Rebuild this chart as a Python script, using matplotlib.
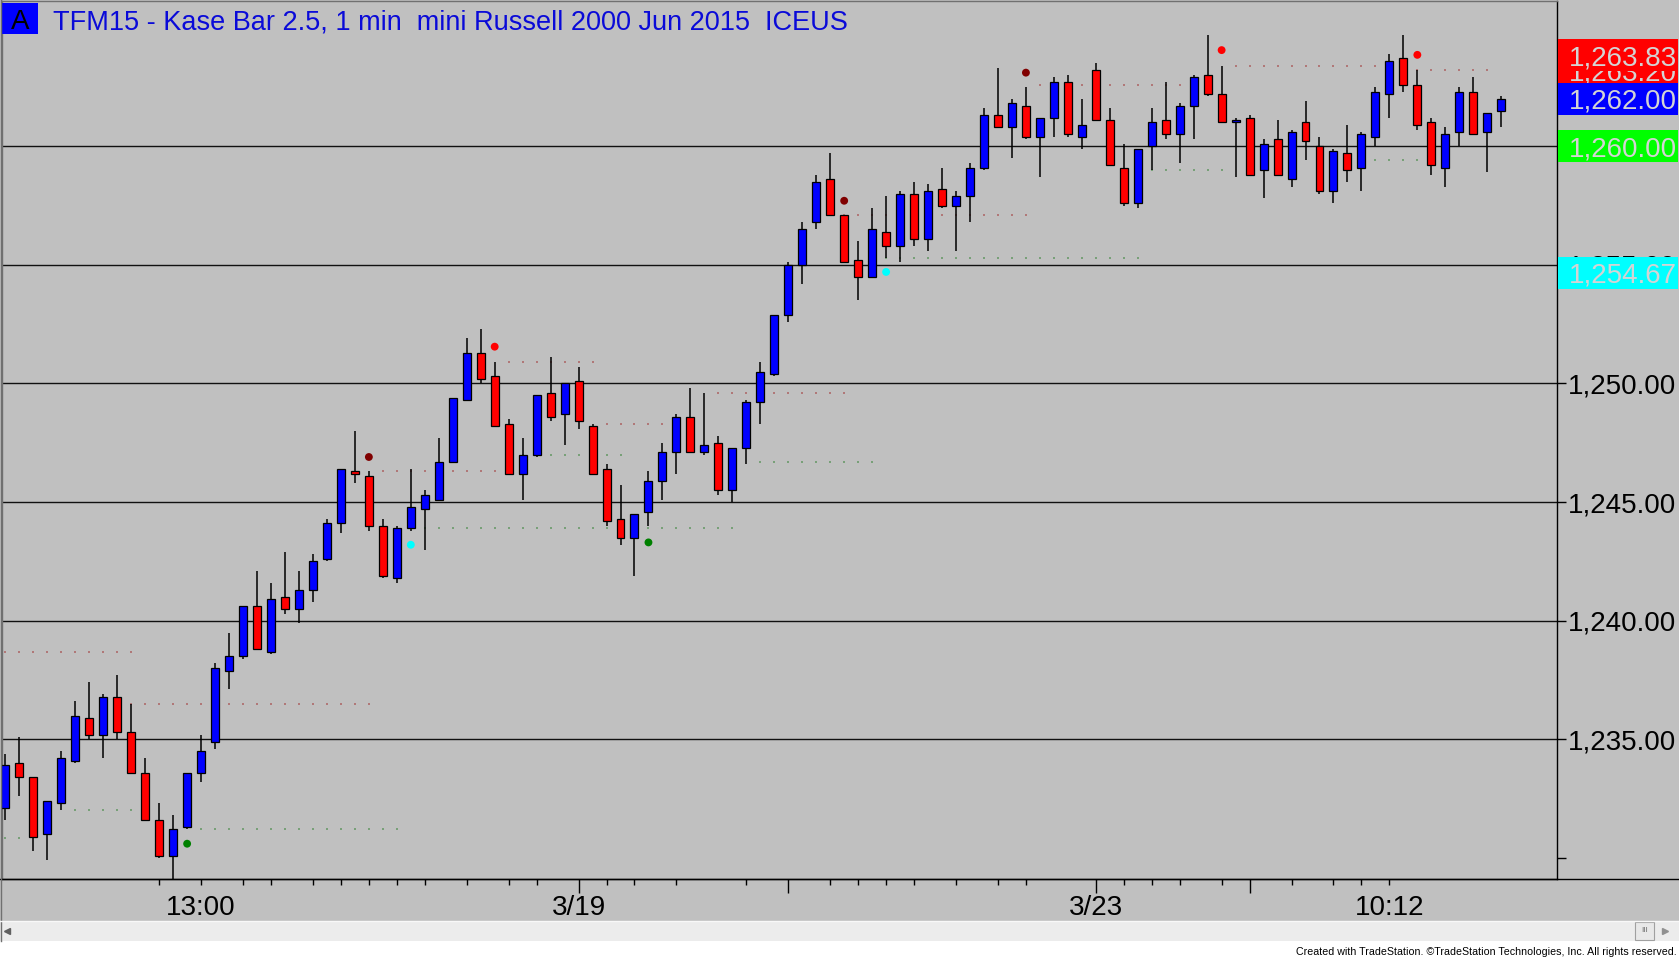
import matplotlib
matplotlib.use("Agg")
import matplotlib.pyplot as plt
from matplotlib.patches import Rectangle
from matplotlib.lines import Line2D
from matplotlib.transforms import blended_transform_factory
import numpy as np

plt.rcParams['font.family'] = ['Liberation Sans', 'DejaVu Sans']

# ---------------- data ----------------
opens = [1232.1, 1234.0, 1233.4, 1231.0, 1232.3, 1234.1, 1235.9, 1235.2, 1236.8, 1235.3,
         1233.6, 1231.6, 1230.1, 1231.3, 1233.6, 1234.9, 1237.9, 1238.5, 1240.6, 1238.7,
         1241.0, 1240.5, 1241.3, 1242.6, 1244.1, 1246.3, 1246.1, 1244.0, 1241.8, 1243.9,
         1244.7, 1245.1, 1246.7, 1249.3, 1251.3, 1250.3, 1248.3, 1246.2, 1247.0, 1249.6,
         1248.7, 1250.1, 1248.2, 1246.4, 1244.3, 1243.5, 1244.6, 1245.9, 1247.1, 1248.6,
         1247.1, 1247.5, 1245.5, 1247.3, 1249.2, 1250.4, 1252.9, 1255.0, 1256.8, 1258.6,
         1257.1, 1255.2, 1254.5, 1256.4, 1255.8, 1258.0, 1256.1, 1258.2, 1257.5, 1257.9,
         1259.1, 1261.3, 1260.8, 1261.7, 1260.4, 1261.2, 1262.7, 1260.4, 1263.2, 1261.1,
         1259.1, 1257.6, 1260.0, 1261.1, 1260.5, 1261.7, 1263.0, 1262.2, 1261.0, 1261.2,
         1259.0, 1260.3, 1258.6, 1261.0, 1260.0, 1258.1, 1259.7, 1259.1, 1260.4, 1262.2,
         1263.7, 1262.6, 1261.0, 1259.1, 1260.6, 1262.3, 1260.6, 1261.5]
highs = [1234.4, 1235.1, 1233.4, 1232.4, 1234.5, 1236.6, 1237.4, 1236.9, 1237.7, 1236.5,
         1234.2, 1232.3, 1231.8, 1233.6, 1235.2, 1238.2, 1239.5, 1240.6, 1242.1, 1241.6,
         1242.9, 1242.1, 1242.8, 1244.3, 1246.4, 1248.0, 1246.3, 1244.3, 1244.0, 1246.4,
         1245.5, 1247.7, 1249.4, 1251.9, 1252.3, 1250.9, 1248.5, 1247.7, 1249.5, 1251.1,
         1250.0, 1250.7, 1248.3, 1246.6, 1245.7, 1244.5, 1246.3, 1247.5, 1248.7, 1249.8,
         1249.6, 1247.8, 1247.3, 1249.3, 1250.9, 1252.9, 1255.1, 1256.8, 1258.8, 1259.7,
         1257.1, 1256.0, 1257.4, 1257.9, 1258.1, 1258.5, 1258.4, 1259.1, 1258.1, 1259.3,
         1261.6, 1263.3, 1262.0, 1262.5, 1261.2, 1262.9, 1263.0, 1262.0, 1263.5, 1261.6,
         1260.1, 1259.9, 1261.6, 1262.7, 1261.8, 1263.0, 1264.7, 1263.4, 1261.2, 1261.3,
         1260.3, 1261.1, 1260.7, 1261.9, 1260.4, 1259.9, 1260.9, 1260.6, 1262.5, 1263.9,
         1264.7, 1263.2, 1261.2, 1260.8, 1262.5, 1262.9, 1261.4, 1262.1]
lows = [1231.6, 1232.6, 1230.3, 1229.9, 1232.0, 1234.0, 1235.0, 1234.2, 1235.0, 1233.6,
        1231.6, 1230.0, 1229.1, 1231.2, 1233.2, 1234.6, 1237.1, 1238.4, 1238.8, 1238.6,
        1240.3, 1239.9, 1240.8, 1242.5, 1243.7, 1245.8, 1243.8, 1241.8, 1241.6, 1243.8,
        1243.0, 1245.1, 1246.7, 1249.3, 1250.0, 1248.2, 1246.2, 1245.1, 1246.9, 1248.4,
        1247.4, 1248.1, 1246.2, 1244.0, 1243.2, 1241.9, 1244.0, 1245.1, 1246.2, 1247.1,
        1247.0, 1245.3, 1245.0, 1246.6, 1248.3, 1250.3, 1252.6, 1254.2, 1256.5, 1257.1,
        1255.1, 1253.5, 1254.5, 1255.3, 1255.1, 1255.8, 1255.6, 1257.4, 1255.6, 1256.8,
        1259.0, 1260.8, 1259.5, 1260.3, 1258.7, 1260.4, 1260.4, 1259.9, 1261.1, 1259.2,
        1257.5, 1257.4, 1259.0, 1260.3, 1259.3, 1260.3, 1262.1, 1261.0, 1258.7, 1258.8,
        1257.8, 1258.8, 1258.3, 1259.4, 1258.0, 1257.6, 1258.5, 1258.1, 1260.0, 1261.2,
        1262.3, 1260.7, 1258.8, 1258.3, 1260.0, 1260.5, 1258.9, 1260.8]
closes = [1233.9, 1233.4, 1230.9, 1232.4, 1234.2, 1236.0, 1235.2, 1236.8, 1235.3, 1233.6,
          1231.6, 1230.1, 1231.2, 1233.6, 1234.5, 1238.0, 1238.5, 1240.6, 1238.8, 1240.9,
          1240.5, 1241.3, 1242.5, 1244.1, 1246.4, 1246.2, 1244.0, 1241.9, 1243.9, 1244.8,
          1245.3, 1246.7, 1249.4, 1251.3, 1250.2, 1248.2, 1246.2, 1247.0, 1249.5, 1248.6,
          1250.0, 1248.4, 1246.2, 1244.2, 1243.5, 1244.5, 1245.9, 1247.1, 1248.6, 1247.1,
          1247.4, 1245.5, 1247.3, 1249.2, 1250.5, 1252.9, 1255.0, 1256.5, 1258.5, 1257.1,
          1255.1, 1254.5, 1256.5, 1255.8, 1258.0, 1256.1, 1258.1, 1257.5, 1257.9, 1259.1,
          1261.3, 1260.8, 1261.8, 1260.4, 1261.2, 1262.7, 1260.5, 1260.9, 1261.1, 1259.2,
          1257.6, 1259.9, 1261.0, 1260.5, 1261.7, 1262.9, 1262.2, 1261.0, 1261.1, 1258.8,
          1260.1, 1258.8, 1260.6, 1260.2, 1258.1, 1259.8, 1259.0, 1260.5, 1262.3, 1263.6,
          1262.6, 1260.9, 1259.2, 1260.5, 1262.3, 1260.5, 1261.4, 1262.0]

# signal dots: bar index, price, colour
dot_bars = [13, 26, 29, 35, 46, 60, 63, 73, 87, 101]
dot_prices = [1230.6, 1246.9, 1243.2, 1251.55, 1243.3, 1257.7, 1254.7, 1263.1, 1264.05, 1263.85]
dot_colors = ['#008000', '#800000', '#00ffff', '#ff0000', '#008000', '#800000',
              '#00ffff', '#800000', '#ff0000', '#ff0000']

# faint dotted levels: start bar, end bar, price, kind
lvl_start = [0, 9, 5, 14, 0, 27, 30, 36, 37, 43, 51, 54, 60, 63, 74, 82, 88, 98, 101]
lvl_end = [9, 26, 9, 28, 1, 35, 52, 42, 44, 47, 60, 62, 73, 81, 84, 87, 98, 101, 106]
lvl_price = [1238.7, 1236.5, 1232.0, 1231.2, 1230.85, 1246.3, 1243.9, 1250.9, 1247.0, 1248.3,
             1249.6, 1246.7, 1257.1, 1255.3, 1262.6, 1259.0, 1263.4, 1259.4, 1263.2]
lvl_kind = ['r', 'r', 'g', 'g', 'g', 'r', 'g', 'r', 'g', 'r', 'r', 'g', 'r', 'g', 'r', 'g', 'r', 'g', 'r']

y_ticks = [1230, 1235, 1240, 1245, 1250, 1255, 1260]
y_tick_labels = ['', '1,235.00', '1,240.00', '1,245.00', '1,250.00', '1,255.00', '1,260.00']
grid_levels = [1235, 1240, 1245, 1250, 1255, 1260]

x_short_ticks = [11, 14, 17, 19, 22, 24, 26, 28, 30, 33, 36, 38, 43, 45, 48, 53,
                 59, 61, 63, 65, 68, 71, 73, 80, 82, 84, 87, 92, 95, 97, 99]
x_tall_ticks = [41, 56, 78, 89]
x_label_bars = [14, 41, 78, 99]
x_labels = ['13:00', '3/19', '3/23', '10:12']

# price marker boxes (value, text, colour)
box_values = [1263.20, 1263.83, 1262.00, 1260.00, 1254.67]
box_texts = ['1,263.20', '1,263.83', '1,262.00', '1,260.00', '1,254.67']
box_colors = ['#ff0000', '#ff0000', '#0000ff', '#00ff00', '#00ffff']

title = 'TFM15 - Kase Bar 2.5, 1 min  mini Russell 2000 Jun 2015  ICEUS'

# ---------------- figure ----------------
W, H = 1679, 957
BG = '#c0c0c0'
fig = plt.figure(figsize=(W / 100, H / 100), dpi=100)
fig.patch.set_facecolor(BG)

def fx(px):
    return px / W

def fy(py):
    return 1 - py / H

ax_l, ax_r, ax_t, ax_b = 2, 1557, 1, 879.3
ax = fig.add_axes([fx(ax_l), fy(ax_b), fx(ax_r - ax_l), (ax_b - ax_t) / H])
ax.set_facecolor(BG)
ax.set_xlim(-0.243, 110.99)
ax.set_ylim(1229.10, 1266.12)

for lv in grid_levels:
    ax.axhline(lv, color='#101010', lw=1.0, zorder=1)

# dotted levels
kind_col = {'r': '#b07878', 'g': '#78a078'}
for s, e, p, k in zip(lvl_start, lvl_end, lvl_price, lvl_kind):
    xs = np.arange(s, e + 1)
    ax.plot(xs, [p] * len(xs), ls='none', marker='s', ms=1.5, mew=0,
            color=kind_col[k], zorder=1.5)

o = np.array(opens); h = np.array(highs); l = np.array(lows); c = np.array(closes)
x = np.arange(len(o))
ax.vlines(x, l, h, color='black', lw=1.1, zorder=2)
up = c >= o
body_bottom = np.minimum(o, c)
body_h = np.maximum(np.abs(c - o), 0.08)
ax.bar(x[up], body_h[up], bottom=body_bottom[up], width=0.57, color='#0000ff',
       edgecolor='black', linewidth=0.9, zorder=3)
ax.bar(x[~up], body_h[~up], bottom=body_bottom[~up], width=0.57, color='#ff0000',
       edgecolor='black', linewidth=0.9, zorder=3)

ax.scatter(dot_bars, dot_prices, s=32, c=dot_colors, edgecolors='none', zorder=4)

# spines
for side in ['left', 'top']:
    ax.spines[side].set_color('#707070')
for side in ['right', 'bottom']:
    ax.spines[side].set_color('black')
for sp in ax.spines.values():
    sp.set_linewidth(1.0)

# y axis
ax.yaxis.tick_right()
ax.set_yticks(y_ticks, y_tick_labels)
ax.tick_params(axis='y', which='major', direction='out', length=6.5, width=1.0,
               pad=1.5, labelsize=20, colors='black')

# x axis
ax.set_xticks(x_tall_ticks, [''] * len(x_tall_ticks))
ax.set_xticks(x_short_ticks, minor=True)
ax.tick_params(axis='x', which='major', direction='out', length=10, width=1.0, colors='black')
ax.tick_params(axis='x', which='minor', direction='out', length=4.5, width=1.0, colors='black')
tx = blended_transform_factory(ax.transData, fig.transFigure)
for b, lab in zip(x_label_bars, x_labels):
    ax.text(b, fy(915), lab, transform=tx, ha='center', va='baseline', fontsize=20,
            color='black', clip_on=False)

# price marker boxes on right axis
tb = blended_transform_factory(fig.transFigure, ax.transData)
box_h = 32 / 23.73
for i, (v, t, col) in enumerate(zip(box_values, box_texts, box_colors)):
    ax.add_patch(Rectangle((fx(1557.5), v - box_h / 2), fx(120), box_h, transform=tb,
                           facecolor=col, edgecolor='none', clip_on=False, zorder=10 + i))
    ax.text(fx(1569), v, t, transform=tb, ha='left', va='center_baseline', fontsize=20,
            color='#d4d4d4', clip_on=False, zorder=10.5 + i)

# bottom axis line across full width
fig.add_artist(Line2D([0, 1], [fy(ax_b), fy(ax_b)], transform=fig.transFigure,
                      color='black', lw=1.0))
fig.add_artist(Line2D([fx(1.2), fx(1.2)], [fy(941), 1], transform=fig.transFigure,
                      color='#707070', lw=1.0))

# title and "A" tag
fig.add_artist(Rectangle((fx(2), fy(34)), fx(35.5), 31 / H, transform=fig.transFigure,
                         facecolor='#0000ff', edgecolor='none'))
fig.text(fx(19.8), fy(29.3), 'A', ha='center', va='baseline', fontsize=20, color='black')
fig.text(fx(53), fy(29.3), title, ha='left', va='baseline', fontsize=19.5, color='#0a0ad8')

# scrollbar and footer
fig.add_artist(Rectangle((0, fy(941)), 1, 20.5 / H, transform=fig.transFigure,
                         facecolor='#ececec', edgecolor='none'))
fig.add_artist(Line2D([0, 1], [fy(920.5), fy(920.5)], transform=fig.transFigure,
                      color='#f8f8f8', lw=1.0))
fig.add_artist(Rectangle((0, 0), 1, fy(941), transform=fig.transFigure,
                         facecolor='white', edgecolor='none'))
fig.add_artist(Line2D([fx(7)], [fy(931)], transform=fig.transFigure, marker='<',
                      ms=4, color='#606060', ls='none'))
fig.add_artist(Line2D([fx(1665)], [fy(931)], transform=fig.transFigure, marker='>',
                      ms=4, color='#909090', ls='none'))
fig.add_artist(Rectangle((fx(1635), fy(940)), fx(19), 18 / H, transform=fig.transFigure,
                         facecolor='#e8e8e8', edgecolor='#a0a0a0', lw=0.8))
fig.text(fx(1644.5), fy(931), 'III', ha='center', va='center', fontsize=6, color='#707070')
fig.text(fx(1677), fy(955), 'Created with TradeStation. \u00a9TradeStation Technologies, Inc. All rights reserved.',
         ha='right', va='baseline', fontsize=7.7, color='black')

fig.savefig('out.png', dpi=100, facecolor=fig.get_facecolor())
